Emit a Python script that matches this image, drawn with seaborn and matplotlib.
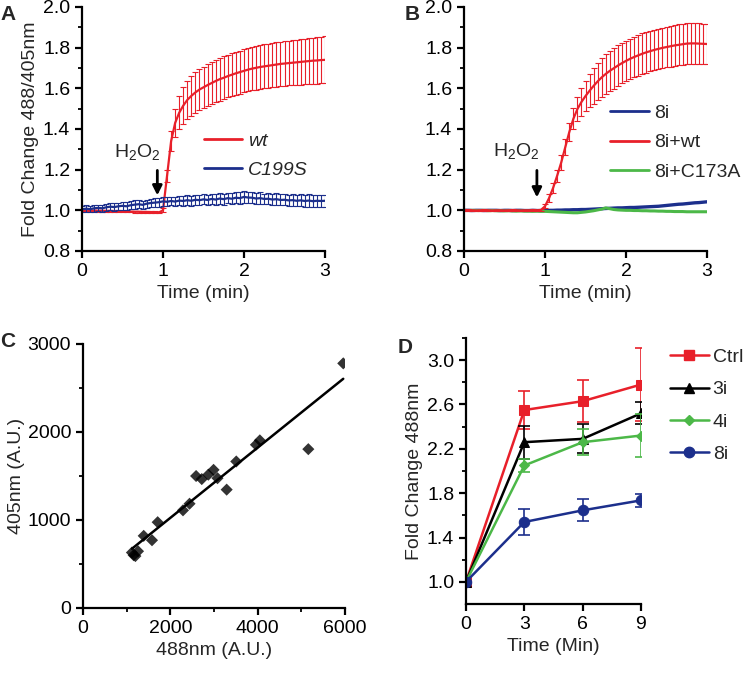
import numpy as np
import matplotlib
matplotlib.use("Agg")
import matplotlib.pyplot as plt
import seaborn as sns
from matplotlib.lines import Line2D
from matplotlib.ticker import MultipleLocator

# ---------------- data ----------------
# panels A and B: time course, one reading every 0.05 min
time_min = [0.00, 0.05, 0.10, 0.15, 0.20, 0.25, 0.30, 0.35, 0.40, 0.45,
            0.50, 0.55, 0.60, 0.65, 0.70, 0.75, 0.80, 0.85, 0.90, 0.95,
            1.00, 1.05, 1.10, 1.15, 1.20, 1.25, 1.30, 1.35, 1.40, 1.45,
            1.50, 1.55, 1.60, 1.65, 1.70, 1.75, 1.80, 1.85, 1.90, 1.95,
            2.00, 2.05, 2.10, 2.15, 2.20, 2.25, 2.30, 2.35, 2.40, 2.45,
            2.50, 2.55, 2.60, 2.65, 2.70, 2.75, 2.80, 2.85, 2.90, 2.95,
            3.00]

wt_mean = [1.000, 1.000, 0.999, 0.999, 0.998, 0.998, 0.997, 0.997, 0.996, 0.996,
           0.995, 0.994, 0.994, 0.993, 0.993, 0.992, 0.992, 0.991, 0.991, 0.990,
           1.000, 1.170, 1.340, 1.430, 1.480, 1.515, 1.543, 1.563, 1.580, 1.594,
           1.605, 1.616, 1.626, 1.636, 1.645, 1.652, 1.660, 1.667, 1.674, 1.680,
           1.686, 1.692, 1.697, 1.701, 1.705, 1.708, 1.711, 1.714, 1.717, 1.720,
           1.722, 1.724, 1.726, 1.728, 1.730, 1.732, 1.734, 1.736, 1.737, 1.739,
           1.740]
wt_sd = [0.004, 0.004, 0.004, 0.004, 0.004, 0.004, 0.004, 0.004, 0.004, 0.004,
         0.004, 0.004, 0.004, 0.004, 0.004, 0.004, 0.004, 0.004, 0.004, 0.004,
         0.010, 0.030, 0.050, 0.070, 0.080, 0.090, 0.095, 0.098, 0.100, 0.101,
         0.102, 0.103, 0.104, 0.104, 0.105, 0.105, 0.105, 0.106, 0.106, 0.106,
         0.106, 0.107, 0.107, 0.107, 0.108, 0.108, 0.108, 0.109, 0.109, 0.110,
         0.110, 0.110, 0.111, 0.111, 0.112, 0.112, 0.113, 0.113, 0.114, 0.114,
         0.115]
c199s_mean = [1.005, 1.008, 1.006, 1.010, 1.012, 1.010, 1.015, 1.018, 1.016, 1.020,
              1.022, 1.020, 1.025, 1.028, 1.030, 1.027, 1.033, 1.036, 1.038, 1.040,
              1.044, 1.042, 1.046, 1.043, 1.048, 1.046, 1.050, 1.047, 1.052, 1.050,
              1.054, 1.051, 1.056, 1.053, 1.058, 1.055, 1.060, 1.057, 1.062, 1.060,
              1.066, 1.063, 1.062, 1.058, 1.060, 1.056, 1.057, 1.053, 1.055, 1.051,
              1.052, 1.049, 1.050, 1.047, 1.049, 1.046, 1.048, 1.045, 1.047, 1.046,
              1.047]
c199s_sd = [0.015, 0.016, 0.015, 0.017, 0.016, 0.018, 0.017, 0.018, 0.019, 0.018,
            0.020, 0.019, 0.020, 0.021, 0.020, 0.021, 0.020, 0.022, 0.021, 0.022,
            0.022, 0.023, 0.022, 0.024, 0.023, 0.024, 0.023, 0.025, 0.024, 0.025,
            0.024, 0.026, 0.025, 0.026, 0.025, 0.027, 0.026, 0.028, 0.027, 0.028,
            0.030, 0.029, 0.028, 0.027, 0.028, 0.026, 0.027, 0.026, 0.028, 0.027,
            0.026, 0.027, 0.028, 0.027, 0.029, 0.028, 0.030, 0.029, 0.030, 0.029,
            0.030]

i8_mean = [1.000, 1.000, 0.999, 1.000, 1.000, 0.999, 1.000, 1.000, 1.000, 0.999,
           1.000, 1.000, 0.999, 1.000, 1.000, 0.999, 0.999, 1.000, 0.999, 0.999,
           0.999, 1.000, 1.000, 1.001, 1.001, 1.002, 1.002, 1.003, 1.003, 1.004,
           1.004, 1.005, 1.006, 1.007, 1.008, 1.009, 1.010, 1.011, 1.012, 1.012,
           1.013, 1.014, 1.014, 1.015, 1.016, 1.017, 1.018, 1.019, 1.020, 1.022,
           1.024, 1.026, 1.028, 1.030, 1.031, 1.033, 1.035, 1.037, 1.038, 1.040,
           1.042]
i8wt_mean = [1.000, 1.001, 1.000, 0.999, 1.000, 1.001, 1.000, 0.999, 1.000, 1.000,
             0.999, 1.000, 1.001, 1.000, 0.999, 1.000, 1.000, 1.001, 1.000, 1.002,
             1.020, 1.060, 1.110, 1.170, 1.235, 1.310, 1.385, 1.450, 1.498, 1.533,
             1.562, 1.588, 1.612, 1.634, 1.654, 1.671, 1.686, 1.699, 1.712, 1.724,
             1.735, 1.745, 1.754, 1.762, 1.770, 1.777, 1.783, 1.789, 1.794, 1.799,
             1.803, 1.807, 1.811, 1.814, 1.817, 1.820, 1.821, 1.821, 1.820, 1.819,
             1.818]
i8wt_sd = [0.004, 0.004, 0.004, 0.004, 0.004, 0.004, 0.004, 0.004, 0.004, 0.004,
           0.004, 0.004, 0.004, 0.004, 0.004, 0.004, 0.004, 0.004, 0.004, 0.004,
           0.010, 0.020, 0.025, 0.030, 0.035, 0.040, 0.045, 0.052, 0.060, 0.067,
           0.075, 0.082, 0.088, 0.093, 0.096, 0.098, 0.100, 0.100, 0.100, 0.100,
           0.100, 0.100, 0.100, 0.100, 0.100, 0.100, 0.100, 0.100, 0.100, 0.100,
           0.100, 0.100, 0.100, 0.100, 0.100, 0.100, 0.099, 0.099, 0.099, 0.098,
           0.098]
i8c173a_mean = [1.000, 0.999, 1.000, 0.999, 0.999, 1.000, 0.998, 0.999, 0.998, 0.998,
                0.997, 0.998, 0.997, 0.996, 0.997, 0.996, 0.996, 0.995, 0.996, 0.995,
                0.995, 0.994, 0.993, 0.992, 0.991, 0.990, 0.989, 0.988, 0.988, 0.990,
                0.992, 0.995, 0.998, 1.002, 1.006, 1.012, 1.008, 1.004, 1.002, 1.001,
                1.000, 1.000, 0.999, 0.999, 0.998, 0.998, 0.997, 0.997, 0.996, 0.996,
                0.995, 0.995, 0.994, 0.994, 0.994, 0.993, 0.993, 0.993, 0.993, 0.993,
                0.993]

# panel C: single cells, 488 vs 405 intensity
cell_488 = [1120, 1160, 1200, 1260, 1390, 1580, 1710, 2290, 2440, 2590,
            2720, 2870, 2990, 3080, 3290, 3510, 3960, 4050, 5160, 5960]
cell_405 = [630, 600, 590, 645, 820, 770, 975, 1110, 1185, 1500,
            1465, 1515, 1570, 1475, 1345, 1665, 1855, 1905, 1805, 2780]

# panel D
d_time = [0, 3, 6, 9]
d_groups = ["Ctrl", "3i", "4i", "8i"]
d_mean = {"Ctrl": [1.0, 2.55, 2.63, 2.78],
          "3i": [1.0, 2.26, 2.29, 2.52],
          "4i": [1.0, 2.05, 2.26, 2.32],
          "8i": [1.0, 1.54, 1.645, 1.735]}
d_err = {"Ctrl": [0.0, 0.17, 0.19, 0.33],
         "3i": [0.0, 0.15, 0.13, 0.10],
         "4i": [0.0, 0.06, 0.12, 0.19],
         "8i": [0.0, 0.12, 0.10, 0.06]}

RED = "#e8202a"
BLUE = "#1c2f8c"
GREEN = "#4cb848"
BLACK = "#000000"
d_colors = {"Ctrl": RED, "3i": BLACK, "4i": GREEN, "8i": BLUE}
d_markers = {"Ctrl": "s", "3i": "^", "4i": "D", "8i": "o"}
d_msize = {"Ctrl": 7, "3i": 7, "4i": 5.5, "8i": 7.5}

# ---------------- style ----------------
sns.set_style("ticks")
plt.rcParams["font.family"] = ["Liberation Sans", "DejaVu Sans"]
plt.rcParams["mathtext.default"] = "regular"
plt.rcParams["axes.linewidth"] = 1.6
FS = 14

fig = plt.figure(figsize=(7.5, 6.74), dpi=100)
axA = fig.add_axes([82 / 750, 1 - 251 / 674, 243 / 750, 244 / 674])
axB = fig.add_axes([464 / 750, 1 - 251 / 674, 243 / 750, 244 / 674])
axC = fig.add_axes([83 / 750, 1 - 608 / 674, 262 / 750, 264 / 674])
axD = fig.add_axes([466 / 750, 1 - 604 / 674, 175 / 750, 266 / 674])


def prism(ax):
    sns.despine(ax=ax)
    ax.tick_params(which="major", direction="out", length=5, width=1.6,
                   labelsize=FS, color="black", labelcolor="black")
    ax.tick_params(which="minor", direction="out", length=3, width=1.3,
                   color="black")
    for s in ax.spines.values():
        s.set_color("black")


# ---------------- A ----------------
sns.lineplot(x=time_min, y=wt_mean, ax=axA, color=RED, lw=1.6)
axA.errorbar(time_min, wt_mean, yerr=wt_sd, fmt="none", ecolor=RED,
             elinewidth=0.8, capsize=2.5, capthick=0.8)
sns.lineplot(x=time_min, y=c199s_mean, ax=axA, color=BLUE, lw=1.6)
axA.errorbar(time_min, c199s_mean, yerr=c199s_sd, fmt="none", ecolor=BLUE,
             elinewidth=0.8, capsize=2.5, capthick=0.8)
axA.set_xlim(0, 3)
axA.set_ylim(0.8, 2.0)
axA.xaxis.set_major_locator(MultipleLocator(1))
axA.set_yticks([0.8, 1.0, 1.2, 1.4, 1.6, 1.8, 2.0])
axA.set_yticklabels(["0.8", "1.0", "1.2", "1.4", "1.6", "1.8", "2.0"])
axA.yaxis.set_minor_locator(MultipleLocator(0.1))
axA.set_xlabel("Time (min)", fontsize=FS)
axA.set_ylabel("Fold Change 488/405nm", fontsize=FS, labelpad=3)
prism(axA)
axA.text(0.68, 1.285, "H$_2$O$_2$", fontsize=FS, ha="center", va="center")
axA.annotate("", xy=(0.93, 1.06), xytext=(0.93, 1.21),
             arrowprops=dict(arrowstyle="-|>", color="black", lw=2,
                             mutation_scale=14))
hA = [Line2D([], [], color=RED, lw=2), Line2D([], [], color=BLUE, lw=2)]
legA = axA.legend(hA, ["wt", "C199S"], loc="upper left",
                  bbox_to_anchor=(0.5, 0.485), frameon=False, fontsize=FS,
                  handlelength=2.0, handletextpad=0.3, labelspacing=0.55,
                  borderpad=0, borderaxespad=0)
for t in legA.get_texts():
    t.set_fontstyle("italic")

# ---------------- B ----------------
sns.lineplot(x=time_min, y=i8_mean, ax=axB, color=BLUE, lw=2.4)
sns.lineplot(x=time_min, y=i8c173a_mean, ax=axB, color=GREEN, lw=2.2)
sns.lineplot(x=time_min, y=i8wt_mean, ax=axB, color=RED, lw=1.6)
axB.errorbar(time_min, i8wt_mean, yerr=i8wt_sd, fmt="none", ecolor=RED,
             elinewidth=0.8, capsize=2.5, capthick=0.8)
axB.set_xlim(0, 3)
axB.set_ylim(0.8, 2.0)
axB.xaxis.set_major_locator(MultipleLocator(1))
axB.set_yticks([0.8, 1.0, 1.2, 1.4, 1.6, 1.8, 2.0])
axB.set_yticklabels(["0.8", "1.0", "1.2", "1.4", "1.6", "1.8", "2.0"])
axB.yaxis.set_minor_locator(MultipleLocator(0.1))
axB.set_xlabel("Time (min)", fontsize=FS)
axB.set_ylabel("")
prism(axB)
axB.text(0.65, 1.29, "H$_2$O$_2$", fontsize=FS, ha="center", va="center")
axB.annotate("", xy=(0.90, 1.05), xytext=(0.90, 1.21),
             arrowprops=dict(arrowstyle="-|>", color="black", lw=2,
                             mutation_scale=14))
hB = [Line2D([], [], color=BLUE, lw=2), Line2D([], [], color=RED, lw=2),
      Line2D([], [], color=GREEN, lw=2)]
axB.legend(hB, ["8i", "8i+wt", "8i+C173A"], loc="upper left",
           bbox_to_anchor=(0.6, 0.60), frameon=False, fontsize=FS,
           handlelength=2.0, handletextpad=0.3, labelspacing=0.6,
           borderpad=0, borderaxespad=0)

# ---------------- C ----------------
sns.regplot(x=cell_488, y=cell_405, ax=axC, ci=None, color="black",
            marker="D", scatter_kws=dict(s=38, edgecolors="none"),
            line_kws=dict(lw=1.8))
axC.set_xlim(0, 6000)
axC.set_ylim(0, 3000)
axC.set_xticks([0, 2000, 4000, 6000])
axC.xaxis.set_minor_locator(MultipleLocator(1000))
axC.set_yticks([0, 1000, 2000, 3000])
axC.yaxis.set_minor_locator(MultipleLocator(500))
axC.set_xlabel("488nm (A.U.)", fontsize=FS)
axC.set_ylabel("405nm (A.U.)", fontsize=FS, labelpad=2)
prism(axC)

# ---------------- D ----------------
hD = []
for g in d_groups:
    sns.lineplot(x=d_time, y=d_mean[g], ax=axD, color=d_colors[g], lw=1.8,
                 marker=d_markers[g], markersize=d_msize[g],
                 markeredgecolor=d_colors[g])
    axD.errorbar(d_time, d_mean[g], yerr=d_err[g], fmt="none",
                 ecolor=d_colors[g], elinewidth=1.2, capsize=4, capthick=1.2)
    hD.append(Line2D([], [], color=d_colors[g], lw=1.8, marker=d_markers[g],
                     markersize=d_msize[g]))
axD.set_xlim(0, 9)
axD.set_ylim(0.8, 3.2)
axD.set_xticks(d_time)
axD.set_yticks([1.0, 1.4, 1.8, 2.2, 2.6, 3.0])
axD.set_yticklabels(["1.0", "1.4", "1.8", "2.2", "2.6", "3.0"])
axD.set_yticks([1.2, 1.6, 2.0, 2.4, 2.8, 3.2], minor=True)
axD.set_xlabel("Time (Min)", fontsize=FS)
axD.set_ylabel("Fold Change 488nm", fontsize=FS, labelpad=3)
prism(axD)
axD.legend(hD, d_groups, loc="upper left", bbox_to_anchor=(1.165, 0.96),
           frameon=False, fontsize=FS, handlelength=2.0, handletextpad=0.2,
           labelspacing=0.75, borderpad=0, borderaxespad=0)

# panel letters
for lbl, x, y in [("A", 0.011, 0.979), ("B", 0.549, 0.979),
                  ("C", 0.010, 0.494), ("D", 0.540, 0.485)]:
    fig.text(x, y, lbl, fontsize=15, fontweight="bold", ha="center",
             va="center")

fig.savefig("out.png", dpi=100)
